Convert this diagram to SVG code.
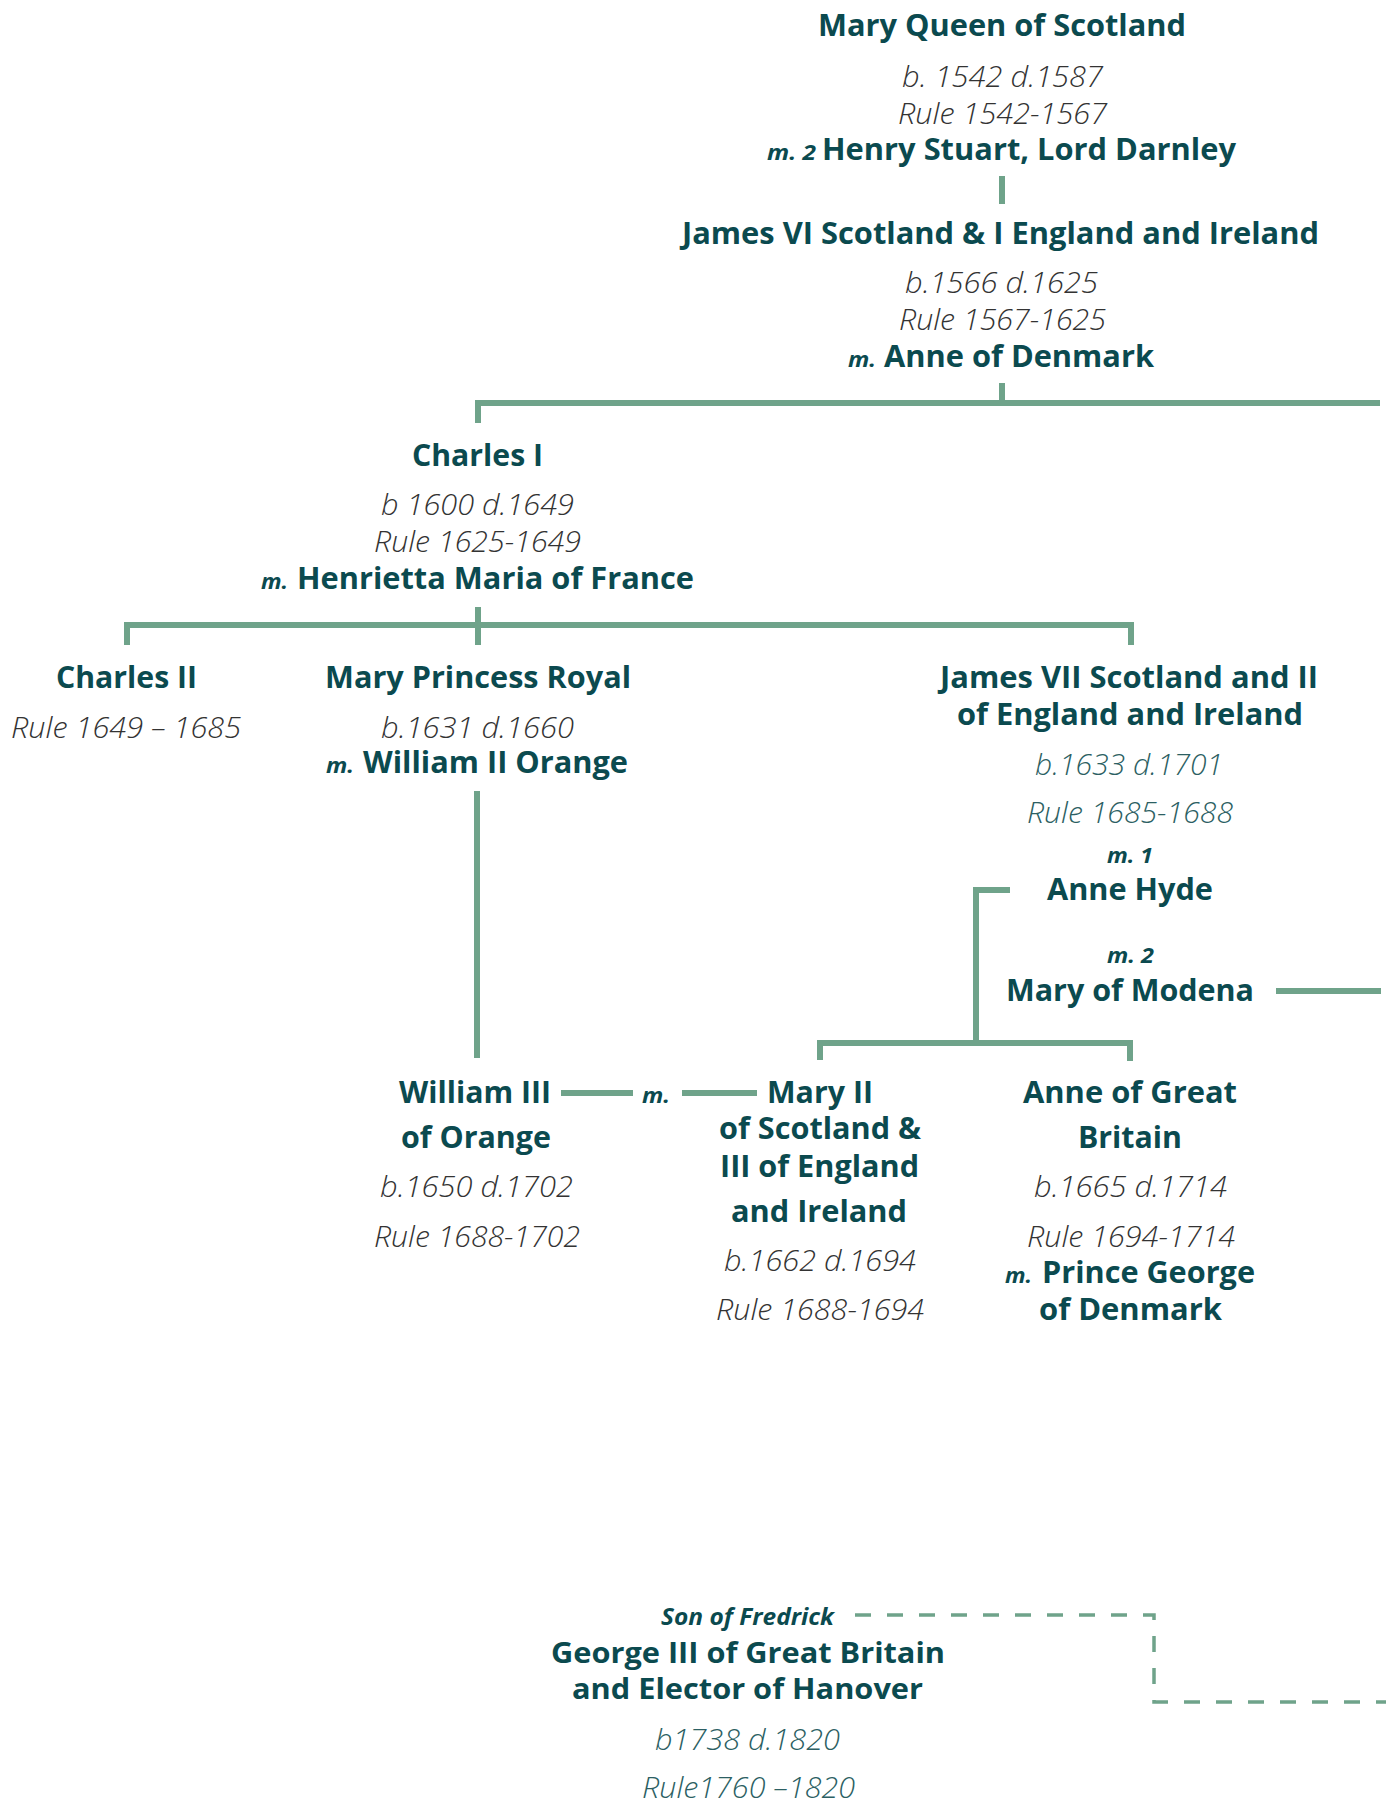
<svg xmlns="http://www.w3.org/2000/svg" width="1386" height="1804" viewBox="0 0 1386 1804">
<style>
text{font-family:"Open Sans","Liberation Sans",sans-serif}
.n{font-weight:700;font-size:30px;fill:#0b4a4f}
.g{font-weight:700;font-size:28px;fill:#0b4a4f}
.d{font-weight:300;font-style:italic;font-size:29px;fill:#333333}
.dt{font-weight:300;font-style:italic;font-size:29px;fill:#2c5f63}
.m{font-weight:700;font-style:italic;font-size:22px;fill:#0b4a4f}
.s{font-weight:700;font-style:italic;font-size:24px;fill:#0b4a4f}
.ln{stroke:#6fa38a;stroke-width:6;fill:none}
.dash{stroke:#6fa38a;stroke-width:3.5;fill:none;stroke-dasharray:16 16}
</style>
<rect width="1386" height="1804" fill="#ffffff"/>
<g id="connectors">
<line class="ln" x1="1002" y1="176" x2="1002" y2="204"/>
<line class="ln" x1="1002" y1="383" x2="1002" y2="403"/>
<path class="ln" d="M478 423 V403 H1380"/>
<line class="ln" x1="478" y1="607" x2="478" y2="645"/>
<path class="ln" d="M127 645 V625 H1131 V645"/>
<line class="ln" x1="477" y1="791" x2="477" y2="1058"/>
<path class="ln" d="M1010 890 H976 V1043"/>
<path class="ln" d="M820 1060 V1043 H1130 V1061"/>
<line class="ln" x1="1276" y1="991" x2="1381" y2="991"/>
<line class="ln" x1="561" y1="1093" x2="633" y2="1093"/>
<line class="ln" x1="682" y1="1093" x2="757" y2="1093"/>
<path class="dash" d="M855 1615 H1154 V1702 H1386"/>
</g>
<g id="mary-queen-of-scotland">
<text class="n" x="818" y="36" textLength="368" lengthAdjust="spacingAndGlyphs">Mary Queen of Scotland</text>
<text class="d" x="902" y="87" textLength="201" lengthAdjust="spacingAndGlyphs">b. 1542 d.1587</text>
<text class="d" x="898" y="124" textLength="209" lengthAdjust="spacingAndGlyphs">Rule 1542-1567</text>
<text class="m" x="767" y="160" textLength="49" lengthAdjust="spacingAndGlyphs">m. 2</text>
<text class="n" x="822" y="160" textLength="414" lengthAdjust="spacingAndGlyphs">Henry Stuart, Lord Darnley</text>
</g>
<g id="james-vi">
<text class="n" x="682" y="244" textLength="637" lengthAdjust="spacingAndGlyphs">James VI Scotland &amp; I England and Ireland</text>
<text class="d" x="905" y="293" textLength="193" lengthAdjust="spacingAndGlyphs">b.1566 d.1625</text>
<text class="d" x="899" y="330" textLength="207" lengthAdjust="spacingAndGlyphs">Rule 1567-1625</text>
<text class="m" x="848" y="367" textLength="28" lengthAdjust="spacingAndGlyphs">m.</text>
<text class="n" x="884" y="367" textLength="270" lengthAdjust="spacingAndGlyphs">Anne of Denmark</text>
</g>
<g id="charles-i">
<text class="n" x="412" y="466" textLength="131" lengthAdjust="spacingAndGlyphs">Charles I</text>
<text class="d" x="381" y="515" textLength="193" lengthAdjust="spacingAndGlyphs">b 1600 d.1649</text>
<text class="d" x="374" y="552" textLength="207" lengthAdjust="spacingAndGlyphs">Rule 1625-1649</text>
<text class="m" x="261" y="589" textLength="27" lengthAdjust="spacingAndGlyphs">m.</text>
<text class="n" x="297" y="589" textLength="397" lengthAdjust="spacingAndGlyphs">Henrietta Maria of France</text>
</g>
<g id="charles-ii">
<text class="n" x="56" y="688" textLength="141" lengthAdjust="spacingAndGlyphs">Charles II</text>
<text class="d" x="11" y="738" textLength="230" lengthAdjust="spacingAndGlyphs">Rule 1649 – 1685</text>
</g>
<g id="mary-princess-royal">
<text class="n" x="325" y="688" textLength="306" lengthAdjust="spacingAndGlyphs">Mary Princess Royal</text>
<text class="d" x="381" y="738" textLength="193" lengthAdjust="spacingAndGlyphs">b.1631 d.1660</text>
<text class="m" x="326" y="773" textLength="28" lengthAdjust="spacingAndGlyphs">m.</text>
<text class="n" x="363" y="773" textLength="265" lengthAdjust="spacingAndGlyphs">William II Orange</text>
</g>
<g id="james-vii">
<text class="n" x="940" y="688" textLength="378" lengthAdjust="spacingAndGlyphs">James VII Scotland and II</text>
<text class="n" x="957" y="725" textLength="346" lengthAdjust="spacingAndGlyphs">of England and Ireland</text>
<text class="dt" x="1035" y="775" textLength="188" lengthAdjust="spacingAndGlyphs">b.1633 d.1701</text>
<text class="dt" x="1027" y="823" textLength="206" lengthAdjust="spacingAndGlyphs">Rule 1685-1688</text>
<text class="m" x="1107" y="863" textLength="46" lengthAdjust="spacingAndGlyphs">m. 1</text>
<text class="n" x="1047" y="900" textLength="166" lengthAdjust="spacingAndGlyphs">Anne Hyde</text>
<text class="m" x="1107" y="963" textLength="47" lengthAdjust="spacingAndGlyphs">m. 2</text>
<text class="n" x="1006" y="1001" textLength="248" lengthAdjust="spacingAndGlyphs">Mary of Modena</text>
</g>
<g id="william-iii">
<text class="n" x="399" y="1103" textLength="152" lengthAdjust="spacingAndGlyphs">William III</text>
<text class="n" x="401" y="1148" textLength="150" lengthAdjust="spacingAndGlyphs">of Orange</text>
<text class="d" x="380" y="1197" textLength="193" lengthAdjust="spacingAndGlyphs">b.1650 d.1702</text>
<text class="d" x="374" y="1247" textLength="206" lengthAdjust="spacingAndGlyphs">Rule 1688-1702</text>
<text class="m" x="642" y="1103" textLength="28" lengthAdjust="spacingAndGlyphs">m.</text>
</g>
<g id="mary-ii">
<text class="n" x="767" y="1103" textLength="106" lengthAdjust="spacingAndGlyphs">Mary II</text>
<text class="n" x="719" y="1139" textLength="202" lengthAdjust="spacingAndGlyphs">of Scotland &amp;</text>
<text class="n" x="720" y="1177" textLength="199" lengthAdjust="spacingAndGlyphs">III of England</text>
<text class="n" x="731" y="1222" textLength="176" lengthAdjust="spacingAndGlyphs">and Ireland</text>
<text class="d" x="724" y="1271" textLength="192" lengthAdjust="spacingAndGlyphs">b.1662 d.1694</text>
<text class="d" x="716" y="1320" textLength="208" lengthAdjust="spacingAndGlyphs">Rule 1688-1694</text>
</g>
<g id="anne-of-great-britain">
<text class="n" x="1023" y="1103" textLength="214" lengthAdjust="spacingAndGlyphs">Anne of Great</text>
<text class="n" x="1078" y="1148" textLength="104" lengthAdjust="spacingAndGlyphs">Britain</text>
<text class="d" x="1034" y="1197" textLength="193" lengthAdjust="spacingAndGlyphs">b.1665 d.1714</text>
<text class="d" x="1027" y="1247" textLength="208" lengthAdjust="spacingAndGlyphs">Rule 1694-1714</text>
<text class="m" x="1005" y="1283" textLength="27" lengthAdjust="spacingAndGlyphs">m.</text>
<text class="n" x="1042" y="1283" textLength="213" lengthAdjust="spacingAndGlyphs">Prince George</text>
<text class="n" x="1039" y="1320" textLength="183" lengthAdjust="spacingAndGlyphs">of Denmark</text>
</g>
<g id="george-iii">
<text class="s" x="661" y="1625" textLength="173" lengthAdjust="spacingAndGlyphs">Son of Fredrick</text>
<text class="g" x="551" y="1663" textLength="394" lengthAdjust="spacingAndGlyphs">George III of Great Britain</text>
<text class="g" x="572" y="1699" textLength="351" lengthAdjust="spacingAndGlyphs">and Elector of Hanover</text>
<text class="dt" x="655" y="1750" textLength="185" lengthAdjust="spacingAndGlyphs">b1738 d.1820</text>
<text class="dt" x="642" y="1798" textLength="213" lengthAdjust="spacingAndGlyphs">Rule1760 –1820</text>
</g>
</svg>
